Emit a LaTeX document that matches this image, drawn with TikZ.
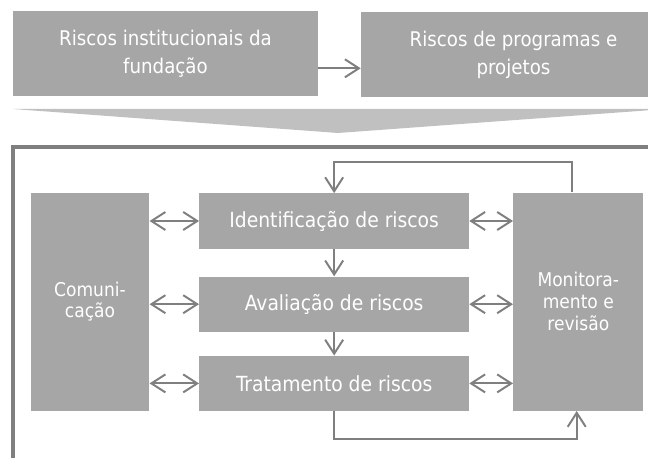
\documentclass[tikz,border=0pt]{standalone}
\usepackage{fontspec}
\setmainfont{DejaVu Sans Condensed}
\usetikzlibrary{arrows.meta}
\definecolor{boxgray}{HTML}{A6A6A6}
\definecolor{chevgray}{HTML}{C0C0C0}
\definecolor{linegray}{HTML}{7F7F7F}
\begin{document}
\begin{tikzpicture}[
  blk/.style={fill=boxgray,text=white,align=center,inner sep=0pt,
    font=\fontsize{13.5}{15.5}\selectfont},
  topblk/.style={blk,minimum width=7.625cm,minimum height=2.125cm,
    font=\fontsize{14.4}{20}\selectfont},
  midblk/.style={blk,minimum width=6.7425cm,minimum height=1.38cm,
    font=\fontsize{14.8}{17}\selectfont},
  arr/.style={draw=linegray,line width=1.4pt,
    -{Straight Barb[length=3.5mm,width=4.5mm]}},
  darr/.style={arr,{Straight Barb[length=3.5mm,width=4.5mm]}-{Straight Barb[length=3.5mm,width=4.5mm]}}]
\useasboundingbox (0,0) rectangle (16.2,11.425);
%
\node[topblk] (inst) at (4.1375,10.0875) {Riscos institucionais da\\fundação};
\node[topblk] (prog) at (12.8375,10.0625) {Riscos de programas e\\projetos};
\draw[arr] ([yshift=-0.37cm]inst.east) -- ([yshift=-0.345cm]prog.west);
%
\fill[chevgray] (0.325,8.7) -- (16.65,8.7) -- (8.45,8.1) -- cycle;
\draw[linegray,line width=0.1cm] (17,7.7375) -- (0.325,7.7375) -- (0.325,-1);
%
\node[blk,minimum width=2.965cm,minimum height=5.45cm] (com) at (2.25,3.8825)
  {Comuni-\\cação};
\node[blk,minimum width=3.25cm,minimum height=5.45cm] (mon) at (14.4575,3.8825)
  {Monitora-\\mento e\\revisão};
%
\node[midblk] (ident) at (8.354,5.9) {Identificação de riscos};
\node[midblk] (aval) at (8.354,3.82) {Avaliação de riscos};
\node[midblk] (trat) at (8.354,1.84) {Tratamento de riscos};
%
\foreach \n in {ident,aval,trat}{
  \draw[darr] (\n.west -| com.east) -- (\n.west);
  \draw[darr] (\n.east) -- (\n.east -| mon.west);
}
\draw[arr] (ident) -- (aval);
\draw[arr] (aval) -- (trat);
%
\coordinate (loopt) at (8.354,7.37);
\coordinate (loopb) at (8.354,0.44);
\draw[arr] ([xshift=-0.15cm]mon.north) |- (loopt) -- (ident.north);
\draw[arr] (trat.south) -- (loopb) -| ([xshift=-0.04cm]mon.south);
\end{tikzpicture}
\end{document}
